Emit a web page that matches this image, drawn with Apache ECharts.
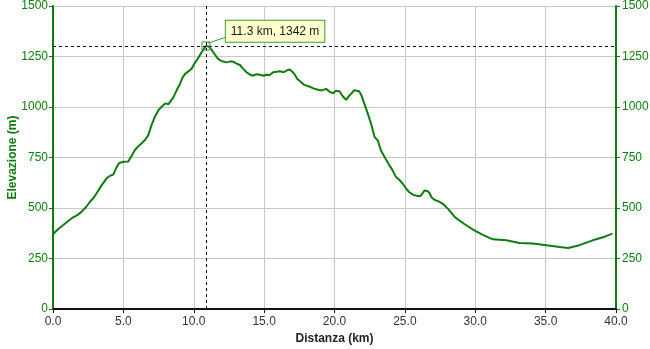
<!DOCTYPE html>
<html>
<head>
<meta charset="utf-8">
<script src="https://cdn.jsdelivr.net/npm/echarts@6/dist/echarts.min.js"></script>
<style>
  html, body { margin: 0; padding: 0; background: #fff; }
  #chart { width: 650px; height: 349px; }
</style>
</head>
<body>
<div id="chart"></div>
<script>
// profilo altimetrico, letto a occhio dal grafico
const distKm = [
  0.0, 0.35, 0.73, 1.1, 1.44, 1.75, 2.04, 2.35, 2.63, 2.9,
  3.1, 3.45, 3.81, 4.05, 4.28, 4.5, 4.7, 5.0, 5.35, 5.6,
  5.82, 6.05, 6.3, 6.55, 6.77, 7.0, 7.24, 7.5, 7.72, 8.0,
  8.2, 8.55, 8.8, 9.02, 9.2, 9.38, 9.6, 9.85, 10.05, 10.2,
  10.4, 10.56, 10.75, 10.87, 11.05, 11.25, 11.5, 11.7, 11.86, 12.1,
  12.33, 12.6, 12.8, 13.05, 13.28, 13.5, 13.75, 14.0, 14.22, 14.45,
  14.7, 14.95, 15.17, 15.4, 15.64, 15.9, 16.11, 16.4, 16.65, 16.82,
  17.0, 17.18, 17.35, 17.55, 17.8, 18.0, 18.26, 18.5, 18.83, 19.1,
  19.4, 19.65, 19.9, 20.1, 20.35, 20.6, 20.83, 21.0, 21.18, 21.4,
  21.54, 21.75, 21.9, 22.05, 22.25, 22.45, 22.6, 22.85, 23.08, 23.3,
  23.6, 23.9, 24.1, 24.37, 24.6, 24.85, 25.05, 25.3, 25.6, 26.0,
  26.15, 26.4, 26.6, 26.75, 26.9, 27.1, 27.4, 27.7, 28.1, 28.55,
  29.2, 29.85, 30.5, 31.25, 32.2, 33.15, 34.1, 35.05, 36.0, 36.6,
  37.4, 38.35, 39.2, 39.75
]
const elevM = [
  370, 395, 416, 437, 454, 466, 482, 505, 531, 552,
  573, 612, 647, 660, 665, 700, 722, 729, 730, 760,
  787, 805, 820, 838, 861, 910, 952, 985, 1001, 1018,
  1014, 1048, 1085, 1114, 1145, 1164, 1175, 1189, 1215, 1230,
  1252, 1271, 1290, 1302, 1300, 1285, 1260, 1240, 1232, 1225,
  1221, 1226, 1224, 1215, 1208, 1190, 1172, 1160, 1155, 1162,
  1160, 1155, 1160, 1158, 1172, 1175, 1177, 1172, 1182, 1186,
  1175, 1160, 1140, 1127, 1112, 1106, 1100, 1092, 1085, 1082,
  1090, 1075, 1068, 1080, 1078, 1052, 1035, 1052, 1065, 1083,
  1085, 1078, 1060, 1030, 991, 950, 917, 851, 834, 785,
  748, 711, 690, 653, 640, 620, 600, 579, 565, 558,
  562, 587, 584, 574, 552, 541, 533, 521, 493, 455,
  422, 393, 368, 345, 340, 327, 324, 316, 307, 302,
  316, 340, 358, 373
]

// punto selezionato (cursore) e testo del riquadro
const cursorPt = [10.87, 1302]
const cursorText = '11.3 km, 1342 m'
const calloutAnchor = [12.28, 1375]
const leaderLine = [[11.0, 1316], [12.28, 1345]]

const green = '#0e7d0e'
const font = 'Liberation Sans, Arial, sans-serif'

const chart = echarts.init(document.getElementById('chart'))

const yAxisBase = {
  type: 'value',
  min: 0,
  max: 1500,
  interval: 250,
  axisLine: { show: true, lineStyle: { color: green, width: 2 } },
  axisTick: { show: true, length: 4, lineStyle: { color: green, width: 1 } },
  axisLabel: {
    color: green, fontSize: 12, fontFamily: font, margin: 5,
    padding: [5, 0, 0, 0], formatter: v => String(v)
  }
}

const option = {
  animation: false,
  backgroundColor: '#fff',
  grid: { left: 53, right: 34, top: 6, bottom: 40, containLabel: false, outerBoundsMode: 'none' },
  xAxis: {
    type: 'value',
    min: 0,
    max: 40,
    interval: 5,
    name: 'Distanza (km)',
    nameLocation: 'middle',
    nameGap: 24,
    nameMoveOverlap: false,
    nameTextStyle: { color: '#222', fontWeight: 'bold', fontSize: 12, fontFamily: font },
    axisLine: { show: true, onZero: false, lineStyle: { color: '#111', width: 2 } },
    axisTick: { show: true, length: 4, lineStyle: { color: '#111' } },
    axisLabel: {
      color: '#333', fontSize: 12, fontFamily: font, margin: 7,
      formatter: v => v.toFixed(1)
    },
    splitLine: { show: true, lineStyle: { color: '#c8c8c8', width: 1 } }
  },
  yAxis: [
    Object.assign({}, yAxisBase, {
      position: 'left',
      name: 'Elevazione (m)',
      nameLocation: 'middle',
      nameGap: 34,
      nameMoveOverlap: false,
      nameTextStyle: { color: green, fontWeight: 'bold', fontSize: 12, fontFamily: font },
      splitLine: { show: true, lineStyle: { color: '#c8c8c8', width: 1 } }
    }),
    Object.assign({}, yAxisBase, {
      position: 'right',
      axisLabel: {
        color: green, fontSize: 12, fontFamily: font, margin: 6,
        padding: [5, 0, 0, 0], formatter: v => String(v)
      },
      splitLine: { show: false }
    })
  ],
  series: [
    {
      type: 'line',
      data: distKm.map((d, i) => [d, elevM[i]]),
      showSymbol: false,
      symbol: 'none',
      lineStyle: { color: green, width: 2 },
      z: 3,
      markLine: {
        silent: true,
        symbol: 'none',
        label: { show: false },
        data: [
          { xAxis: cursorPt[0], lineStyle: { color: '#000', type: [3, 3], width: 1 } },
          { yAxis: cursorPt[1], lineStyle: { color: '#000', type: [3, 3], width: 1 } },
          [
            { coord: leaderLine[0], lineStyle: { color: '#3a9a3a', type: 'solid', width: 1 } },
            { coord: leaderLine[1] }
          ]
        ]
      },
      markPoint: {
        silent: true,
        data: [
          {
            coord: cursorPt,
            symbol: 'rect',
            symbolSize: 8,
            itemStyle: { color: 'rgba(0,0,0,0)', borderColor: '#5a805a', borderWidth: 1 },
            label: { show: false }
          },
          {
            coord: calloutAnchor,
            symbol: 'rect',
            symbolSize: 0,
            label: {
              show: true,
              position: 'right',
              distance: 0,
              formatter: cursorText,
              color: '#1a1a1a',
              fontSize: 12,
              fontFamily: font,
              backgroundColor: '#ffffcc',
              borderColor: '#3a9a3a',
              borderWidth: 1,
              padding: [5, 5, 4, 5]
            }
          }
        ]
      }
    }
  ]
}

chart.setOption(option)
</script>
</body>
</html>
